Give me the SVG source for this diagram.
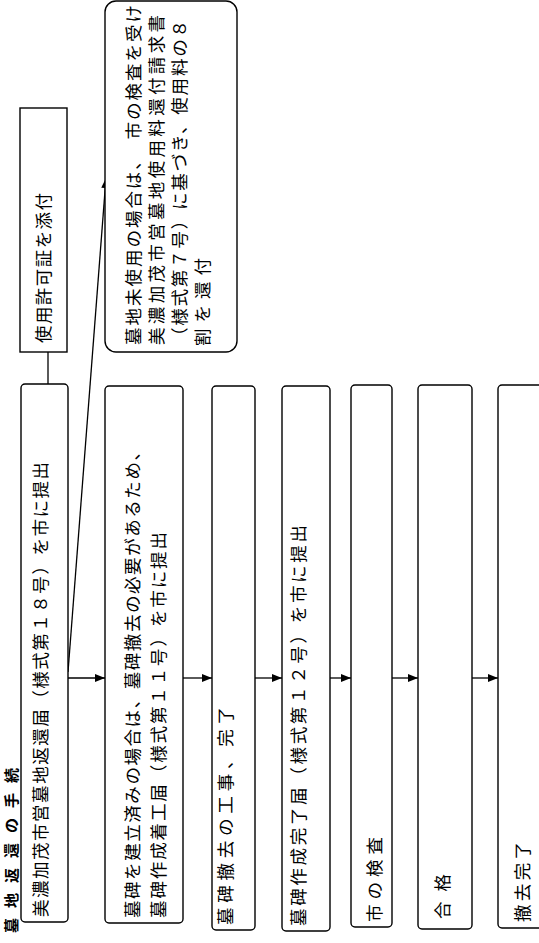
<svg xmlns="http://www.w3.org/2000/svg" width="539" height="943" viewBox="0 0 539 943">
<style>
.box{fill:#fff;stroke:#000;stroke-width:1.4}
.t{font-family:"Noto Sans CJK JP","Noto Sans CJK SC",sans-serif;font-size:17.5px;fill:#000;dominant-baseline:central}
.title{font-family:"Noto Sans CJK JP",sans-serif;font-size:15px;font-weight:bold;fill:#000;dominant-baseline:central}
.c{stroke:#000;stroke-width:1.3;fill:none}
</style>
<defs>
<marker id="ah" markerWidth="10" markerHeight="8" refX="10" refY="4" orient="auto" markerUnits="userSpaceOnUse">
<path d="M0,0 L10,4 L0,8 Z" fill="#000"/>
</marker>
</defs>
<rect width="539" height="943" fill="#fff"/>
<g id="title">
<text class="title" transform="translate(10.5,933) rotate(-90)" textLength="165" lengthAdjust="spacing">墓地返還の手続</text>
</g>
<g id="connectors">
<line class="c" x1="48" y1="352" x2="48" y2="384"/>
<line class="c" x1="68" y1="678" x2="105" y2="678" marker-end="url(#ah)"/>
<line class="c" x1="68" y1="672" x2="106" y2="178" marker-end="url(#ah)"/>
<line class="c" x1="183" y1="678" x2="212" y2="678" marker-end="url(#ah)"/>
<line class="c" x1="255" y1="678" x2="282" y2="678" marker-end="url(#ah)"/>
<line class="c" x1="330" y1="678" x2="351" y2="678" marker-end="url(#ah)"/>
<line class="c" x1="392" y1="678" x2="418" y2="678" marker-end="url(#ah)"/>
<line class="c" x1="472" y1="678" x2="498" y2="678" marker-end="url(#ah)"/>
</g>
<g id="n_permit">
<rect class="box" x="20" y="108" width="47" height="244"/>
<text class="t" transform="translate(42,343) rotate(-90)" textLength="150" lengthAdjust="spacing">使用許可証を添付</text>
</g>
<g id="n1">
<rect class="box" x="21" y="384" width="47" height="538" rx="4"/>
<text class="t" transform="translate(39,917) rotate(-90)" textLength="455" lengthAdjust="spacing">美濃加茂市営墓地返還届（様式第１８号）を市に提出</text>
</g>
<g id="n_refund">
<rect class="box" x="105" y="1" width="132" height="351" rx="11"/>
<text class="t" transform="translate(132,345) rotate(-90)" textLength="340" lengthAdjust="spacing">墓地未使用の場合は、　市の検査を受け</text>
<text class="t" transform="translate(155,345) rotate(-90)" textLength="330" lengthAdjust="spacing">美濃加茂市営墓地使用料還付請求書</text>
<text class="t" transform="translate(178,345) rotate(-90)" textLength="325" lengthAdjust="spacing">（様式第７号）に基づき、使用料の８</text>
<text class="t" transform="translate(201,346) rotate(-90)" textLength="88" lengthAdjust="spacing">割を還付</text>
</g>
<g id="n2">
<rect class="box" x="105" y="386" width="78" height="537" rx="4"/>
<text class="t" transform="translate(131,918) rotate(-90)" textLength="475" lengthAdjust="spacing">墓碑を建立済みの場合は、墓碑撤去の必要があるため、</text>
<text class="t" transform="translate(157,918) rotate(-90)" textLength="386" lengthAdjust="spacing">墓碑作成着工届（様式第１１号）を市に提出</text>
</g>
<g id="n3">
<rect class="box" x="212" y="386" width="43" height="544" rx="4"/>
<text class="t" transform="translate(224,925) rotate(-90)" textLength="218" lengthAdjust="spacing">墓碑撤去の工事、完了</text>
</g>
<g id="n4">
<rect class="box" x="282" y="386" width="48" height="545" rx="4"/>
<text class="t" transform="translate(297,926) rotate(-90)" textLength="401" lengthAdjust="spacing">墓碑作成完了届（様式第１２号）を市に提出</text>
</g>
<g id="n5">
<rect class="box" x="351" y="385" width="41" height="542" rx="4"/>
<text class="t" transform="translate(373,922) rotate(-90)" textLength="85" lengthAdjust="spacing">市の検査</text>
</g>
<g id="n6">
<rect class="box" x="418" y="385" width="54" height="544" rx="4"/>
<text class="t" transform="translate(441,919) rotate(-90)" textLength="45" lengthAdjust="spacing">合格</text>
</g>
<g id="n7">
<rect class="box" x="498" y="385" width="60" height="543" rx="4"/>
<text class="t" transform="translate(521,922) rotate(-90)" textLength="80" lengthAdjust="spacing">撤去完了</text>
</g>
</svg>
